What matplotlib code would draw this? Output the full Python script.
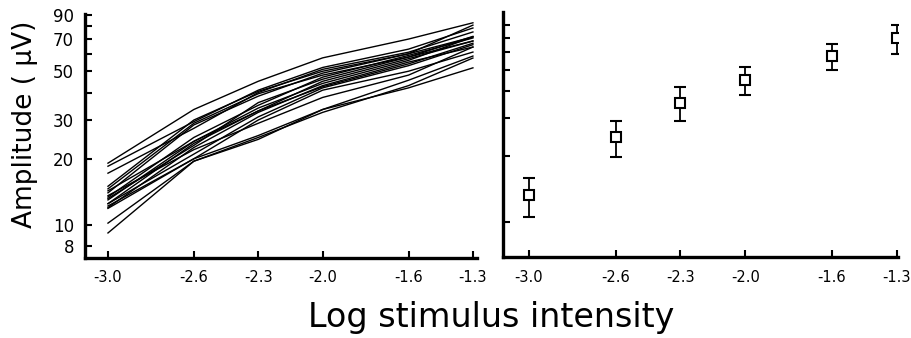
import matplotlib
matplotlib.use("Agg")
import matplotlib.pyplot as plt
from matplotlib.ticker import FixedLocator, NullFormatter, FixedFormatter

# Data
intensity = [-3.0, -2.6, -2.3, -2.0, -1.6, -1.3]
tick_labels_x = ["-3.0", "-2.6", "-2.3", "-2.0", "-1.6", "-1.3"]

subject_01 = [19.1, 33.5, 45.0, 57.5, 70.0, 83.0]
subject_02 = [18.5, 29.5, 41.0, 52.0, 63.0, 78.6]
subject_03 = [17.2, 27.5, 40.0, 51.0, 61.0, 75.4]
subject_04 = [15.0, 30.0, 40.5, 50.0, 60.0, 71.6]
subject_05 = [14.6, 29.0, 39.5, 48.0, 58.0, 68.6]
subject_06 = [14.0, 28.5, 38.5, 49.0, 60.0, 81.0]
subject_07 = [13.4, 25.0, 35.0, 47.0, 59.0, 70.8]
subject_08 = [13.0, 24.0, 34.0, 44.0, 56.0, 71.6]
subject_09 = [12.5, 23.5, 33.0, 45.0, 57.0, 68.6]
subject_10 = [12.0, 22.5, 32.5, 43.0, 55.0, 64.4]
subject_11 = [12.5, 21.0, 31.0, 42.0, 53.0, 66.0]
subject_12 = [11.9, 20.0, 30.0, 41.0, 50.0, 61.1]
subject_13 = [13.6, 22.0, 29.0, 38.0, 48.0, 64.4]
subject_14 = [12.2, 20.0, 25.5, 33.5, 45.5, 58.6]
subject_15 = [10.2, 19.5, 25.0, 32.5, 43.0, 57.4]
subject_16 = [9.2, 19.5, 24.5, 33.5, 42.0, 51.8]
subject_17 = [14.3, 24.0, 33.0, 42.5, 54.0, 67.0]
subject_18 = [13.2, 23.0, 36.0, 46.0, 58.0, 72.0]
subjects = [subject_01, subject_02, subject_03, subject_04, subject_05, subject_06,
            subject_07, subject_08, subject_09, subject_10, subject_11, subject_12,
            subject_13, subject_14, subject_15, subject_16, subject_17, subject_18]

mean_amp = [13.3, 24.5, 35.3, 44.7, 57.7, 69.8]
sd_amp = [2.7, 4.7, 6.3, 6.5, 8.1, 10.5]

y_major = [8, 10, 20, 30, 50, 70, 90]
y_minor = [40, 60, 80]

W, H = 911, 338
fig = plt.figure(figsize=(W / 100, H / 100), dpi=100)

def px_axes(x0, y0, x1, y1):
    return fig.add_axes([x0 / W, 1 - y1 / H, (x1 - x0) / W, (y1 - y0) / H])

ax1 = px_axes(85, 14, 477, 258)
ax2 = px_axes(503, 12, 898, 257)

for ax in (ax1, ax2):
    ax.set_yscale("log")
    for s in ("top", "right"):
        ax.spines[s].set_visible(False)
    for s in ("left", "bottom"):
        ax.spines[s].set_linewidth(2.4)
    ax.set_xticks(intensity)
    ax.set_xticklabels(tick_labels_x, fontsize=10.5)
    ax.tick_params(axis="x", direction="in", length=5, width=1.5, pad=9)
    ax.tick_params(axis="y", which="both", direction="in", length=5, width=1.5)
    ax.minorticks_off()

# Left panel
for s in subjects:
    ax1.plot(intensity, s, color="black", lw=1.0)
ax1.set_xlim(-3.107, -1.281)
ax1.set_ylim(7.08, 91)
ax1.yaxis.set_major_locator(FixedLocator(y_major))
ax1.yaxis.set_major_formatter(FixedFormatter([str(v) for v in y_major]))
ax1.yaxis.set_minor_locator(FixedLocator(y_minor))
ax1.yaxis.set_minor_formatter(NullFormatter())
ax1.tick_params(axis="y", which="major", labelsize=12, pad=8)
ax1.tick_params(axis="y", which="minor", direction="in", length=5, width=1.5)
ax1.set_ylabel("Amplitude ( μV)", fontsize=19)
ax1.yaxis.label.set_va("center")
ax1.yaxis.set_label_coords((25 - 85) / 392, (258 - 124) / 244)

# Right panel
ax2.errorbar(intensity, mean_amp, yerr=sd_amp, fmt="s", mfc="white", mec="black",
             mew=1.5, ms=7.5, ecolor="black", elinewidth=1.3, capsize=4, capthick=1.3)
ax2.set_xlim(-3.12, -1.295)
ax2.set_ylim(6.92, 91.9)
ax2.yaxis.set_major_locator(FixedLocator([10, 20, 30, 40, 50, 60, 70, 80]))
ax2.yaxis.set_major_formatter(NullFormatter())
ax2.yaxis.set_minor_locator(FixedLocator([]))

fig.text(491 / W, 1 - 317 / H, "Log stimulus intensity", fontsize=24,
         ha="center", va="center")

fig.savefig("out.png", dpi=100)
